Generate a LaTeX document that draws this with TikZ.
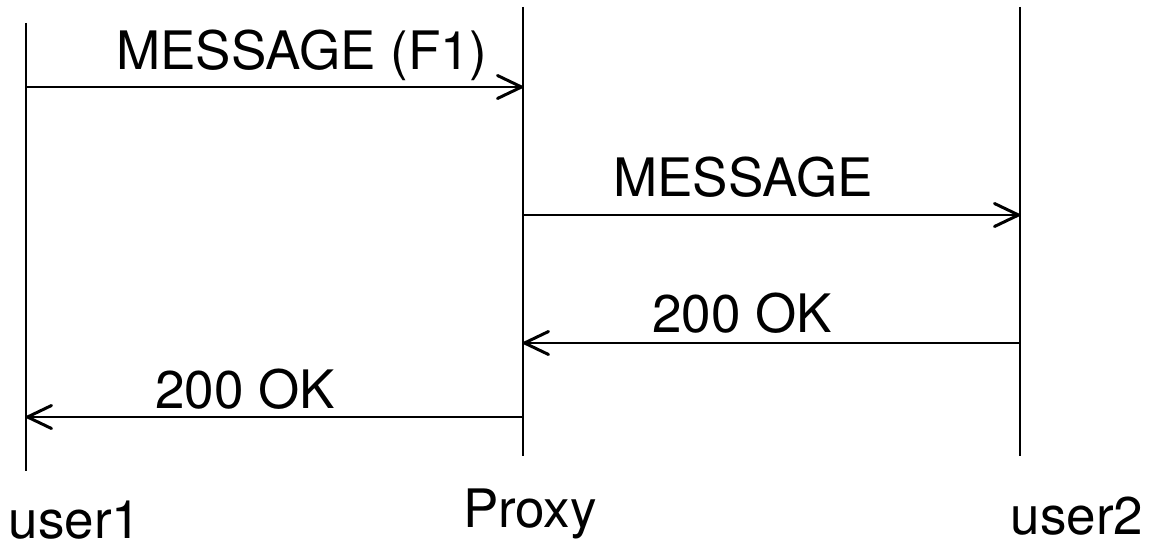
\documentclass[tikz,border=0pt]{standalone}
\usepackage{fontspec}
\setmainfont{TeX Gyre Heros}
\usetikzlibrary{arrows.meta}
\begin{document}
\begin{tikzpicture}[x=1pt,y=-1pt,
  life/.style={line width=2pt},
  msg/.style={line width=2pt,-{Straight Barb[length=24pt,width=23pt,line width=3pt,round]}},
  lbl/.style={font=\fontsize{53}{60}\selectfont,inner sep=0pt,anchor=base}]
\useasboundingbox (0,0) rectangle (1150,543);
% lifelines
\coordinate (u1t) at (26,23);
\coordinate (u1b) at (26,471);
\coordinate (pt) at (523,7);
\coordinate (pb) at (523,456);
\coordinate (u2t) at (1020,7);
\coordinate (u2b) at (1020,456);
\draw[life] (u1t) -- (u1b);
\draw[life] (pt) -- (pb);
\draw[life] (u2t) -- (u2b);
% message points
\coordinate (m1s) at (26,87);
\coordinate (m1e) at (523,87);
\coordinate (m2s) at (523,215);
\coordinate (m2e) at (1020,215);
\coordinate (m3s) at (1020,343);
\coordinate (m3e) at (523,343);
\coordinate (m4s) at (523,417);
\coordinate (m4e) at (26,417);
\draw[msg] (m1s) -- (m1e);
\draw[msg] (m2s) -- (m2e);
\draw[msg] (m3s) -- (m3e);
\draw[msg] (m4s) -- (m4e);
% labels
\node[lbl] (l1) at (302,69) {MESSAGE (F1)};
\node[lbl] (l2) at (743,196) {MESSAGE};
\node[lbl] (l3) at (742,332) {200 OK};
\node[lbl] (l4) at (245,408) {200 OK};
\node[lbl] (nu1) at (75,538) {user1};
\node[lbl] (np) at (530,527) {Proxy};
\node[lbl] (nu2) at (1077,534) {user2};
\end{tikzpicture}
\end{document}
